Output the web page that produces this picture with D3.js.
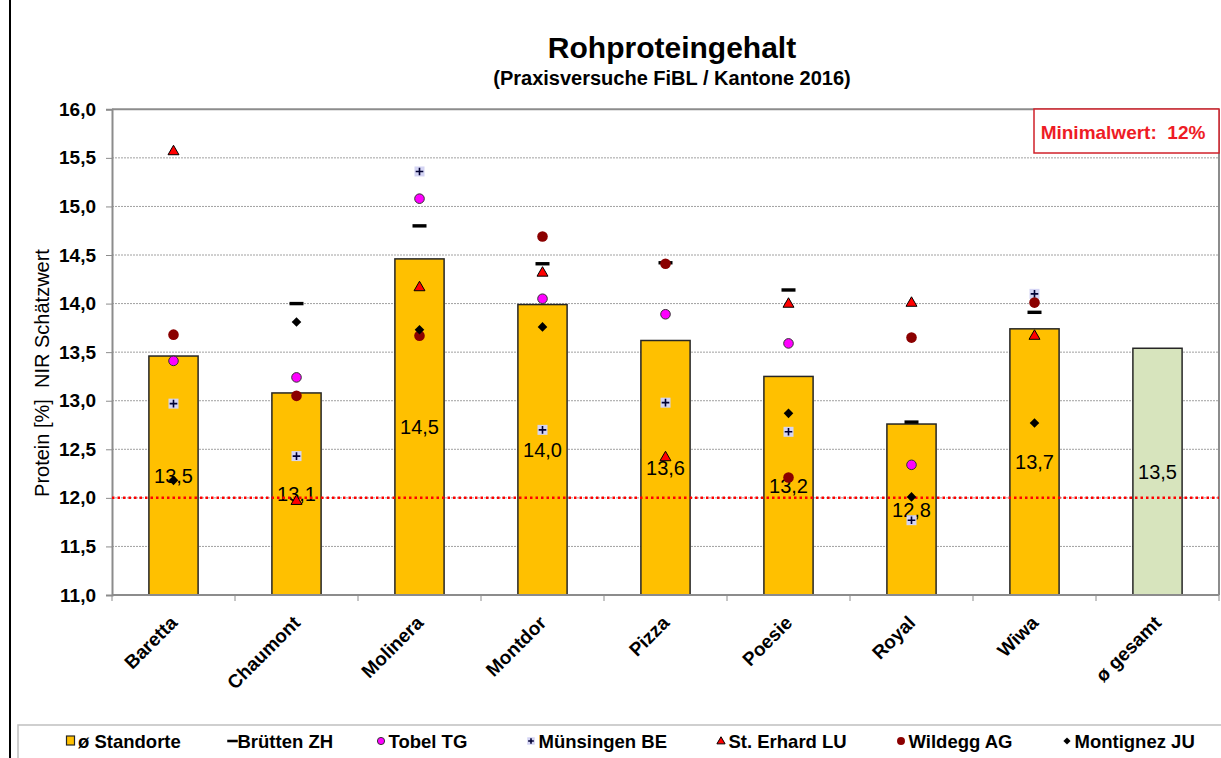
<!DOCTYPE html>
<html>
<head>
<meta charset="utf-8">
<script src="https://cdn.jsdelivr.net/npm/d3@7"></script>
<style>
  body { margin: 0; background: #fff; font-family: "Liberation Sans", Arial, sans-serif; }
</style>
</head>
<body>
<div id="chart"></div>
<script>
const categories = ['Baretta', 'Chaumont', 'Molinera', 'Montdor', 'Pizza', 'Poesie', 'Royal', 'Wiwa', 'ø gesamt'];
const means = [13.46, 13.08, 14.46, 13.99, 13.62, 13.25, 12.76, 13.74, 13.54];
const meanLabels = ['13,5', '13,1', '14,5', '14,0', '13,6', '13,2', '12,8', '13,7', '13,5'];
const bruetten = [null, 14.00, 14.80, 14.41, 14.42, 14.14, 12.78, 13.91, null];
const tobel = [13.41, 13.24, 15.08, 14.05, 13.89, 13.59, 12.34, null, null];
const muensingen = [12.97, 12.43, 15.36, 12.70, 12.98, 12.68, 11.77, 14.10, null];
const erhard = [15.57, 11.97, 14.17, 14.32, 12.42, 14.00, 14.01, 13.67, null];
const wildegg = [13.68, 13.05, 13.67, 14.69, 14.41, 12.21, 13.65, 14.01, null];
const montignez = [12.18, 13.81, 13.73, 13.76, null, 12.87, 12.01, 12.77, null];
const yTicks = [11, 11.5, 12, 12.5, 13, 13.5, 14, 14.5, 15, 15.5, 16];
const minValue = 12;

const width = 1221, height = 758;
const plotLeft = 112, plotRight = 1219, plotTop = 109.3, plotBottom = 595;

const svg = d3.select('#chart').append('svg')
  .attr('width', width)
  .attr('height', height);

const x = d3.scaleBand().domain(categories).range([plotLeft, plotRight]).paddingInner(0.6).paddingOuter(0.3);
const xBand = d3.scaleBand().domain(categories).range([plotLeft, plotRight]);
const y = d3.scaleLinear().domain([11, 16]).range([plotBottom, plotTop]);
const fmt = v => d3.format('.1f')(v).replace('.', ',');

// page frame
svg.append('line').attr('x1', 10).attr('x2', 10).attr('y1', 0).attr('y2', height)
  .attr('stroke', '#000').attr('stroke-width', 2);

// titles
svg.append('text').text('Rohproteingehalt')
  .attr('x', 672).attr('y', 58).attr('text-anchor', 'middle')
  .attr('font-size', 30).attr('font-weight', 'bold');
svg.append('text').text('(Praxisversuche FiBL / Kantone 2016)')
  .attr('x', 672).attr('y', 85).attr('text-anchor', 'middle')
  .attr('font-size', 20).attr('font-weight', 'bold');

// gridlines
svg.append('g').selectAll('line').data(yTicks.slice(1))
  .enter().append('line')
  .attr('x1', plotLeft).attr('x2', plotRight)
  .attr('y1', d => y(d)).attr('y2', d => y(d))
  .attr('stroke', d => d === 16 ? '#8c8c8c' : '#a0a0a0')
  .attr('stroke-width', d => d === 16 ? 2 : 1)
  .attr('stroke-dasharray', d => d === 16 ? null : '2,1');

// right border
svg.append('line').attr('x1', plotRight).attr('x2', plotRight).attr('y1', plotTop).attr('y2', plotBottom)
  .attr('stroke', '#8c8c8c').attr('stroke-width', 2);

// y axis
const yAxis = d3.axisLeft(y).tickValues(yTicks).tickFormat(fmt).tickSize(6).tickPadding(10);
const gy = svg.append('g').attr('transform', 'translate(' + plotLeft + ',0)').call(yAxis);
gy.select('.domain').attr('stroke', '#8c8c8c').attr('stroke-width', 2);
gy.selectAll('.tick line').attr('stroke', '#8c8c8c');
gy.selectAll('text').attr('font-size', 19).attr('font-weight', 'bold').attr('fill', '#000')
  .attr('font-family', '"Liberation Sans", Arial, sans-serif');

svg.append('text').text('Protein [%]  NIR Schätzwert')
  .attr('transform', 'translate(49,373) rotate(-90)')
  .attr('text-anchor', 'middle').attr('font-size', 20).attr('xml:space', 'preserve');

// bars
svg.append('g').selectAll('rect').data(categories)
  .enter().append('rect')
  .attr('x', d => x(d))
  .attr('width', x.bandwidth())
  .attr('y', (d, i) => y(means[i]))
  .attr('height', (d, i) => y(11) - y(means[i]))
  .attr('fill', (d, i) => i === categories.length - 1 ? '#d7e4bd' : '#ffc000')
  .attr('stroke', '#262626').attr('stroke-width', 1.5);

// x axis
const gx = svg.append('g').attr('transform', 'translate(0,' + plotBottom + ')');
gx.append('line').attr('x1', plotLeft).attr('x2', plotRight).attr('stroke', '#8c8c8c').attr('stroke-width', 2);
gx.selectAll('.tk').data(categories.concat(['end']))
  .enter().append('line')
  .attr('x1', (d, i) => plotLeft + i * xBand.bandwidth())
  .attr('x2', (d, i) => plotLeft + i * xBand.bandwidth())
  .attr('y1', 0).attr('y2', 6)
  .attr('stroke', '#8c8c8c');
gx.selectAll('text').data(categories)
  .enter().append('text')
  .text(d => d)
  .attr('transform', d => 'translate(' + (xBand(d) + xBand.bandwidth() / 2 + 5) + ',29) rotate(-45)')
  .attr('text-anchor', 'end')
  .attr('font-size', 19).attr('font-weight', 'bold');

// mean labels
svg.append('g').selectAll('text').data(categories)
  .enter().append('text')
  .text((d, i) => meanLabels[i])
  .attr('x', d => x(d) + x.bandwidth() / 2)
  .attr('y', (d, i) => (y(means[i]) + y(11)) / 2 + 7)
  .attr('text-anchor', 'middle')
  .attr('font-size', 20);

// minimum line
svg.append('line')
  .attr('x1', plotLeft).attr('x2', plotRight)
  .attr('y1', y(minValue)).attr('y2', y(minValue))
  .attr('stroke', '#ff0000').attr('stroke-width', 2.5).attr('stroke-dasharray', '2.5,3');

// markers
const cx = i => xBand(categories[i]) + xBand.bandwidth() / 2;
const series = [
  { name: 'Brütten ZH', data: bruetten, type: 'dash' },
  { name: 'Tobel TG', data: tobel, type: 'magenta' },
  { name: 'Münsingen BE', data: muensingen, type: 'plus' },
  { name: 'St. Erhard LU', data: erhard, type: 'triangle' },
  { name: 'Wildegg AG', data: wildegg, type: 'dot' },
  { name: 'Montignez JU', data: montignez, type: 'diamond' }
];

function drawMarker(g, type, px, py, s) {
  s = s || 1;
  if (type === 'dash') {
    g.append('rect').attr('x', px - 7 * s).attr('y', py - 1.7 * s).attr('width', 14 * s).attr('height', 3.4 * s).attr('fill', '#000');
  } else if (type === 'magenta') {
    g.append('circle').attr('cx', px).attr('cy', py).attr('r', 4.8 * s).attr('fill', '#ff00ff').attr('stroke', '#333').attr('stroke-width', 1);
  } else if (type === 'plus') {
    g.append('rect').attr('x', px - 5 * s).attr('y', py - 5 * s).attr('width', 10 * s).attr('height', 10 * s).attr('fill', '#d4d4f4');
    g.append('path').attr('d', 'M' + (px - 3.8 * s) + ',' + py + 'H' + (px + 3.8 * s) + 'M' + px + ',' + (py - 3.8 * s) + 'V' + (py + 3.8 * s))
      .attr('stroke', '#000033').attr('stroke-width', 1.6);
  } else if (type === 'triangle') {
    g.append('path').attr('d', d3.symbol().type(d3.symbolTriangle).size(52 * s * s)())
      .attr('transform', 'translate(' + px + ',' + (py + 0.5) + ')')
      .attr('fill', '#ff0000').attr('stroke', '#000').attr('stroke-width', 1);
  } else if (type === 'dot') {
    g.append('circle').attr('cx', px).attr('cy', py).attr('r', 5.3 * s).attr('fill', '#8b0000');
  } else if (type === 'diamond') {
    g.append('path').attr('d', d3.symbol().type(d3.symbolSquare).size(46 * s * s)())
      .attr('transform', 'translate(' + px + ',' + py + ') rotate(45)')
      .attr('fill', '#000');
  }
}

series.forEach(sr => {
  const g = svg.append('g');
  sr.data.forEach((v, i) => {
    if (v !== null) drawMarker(g, sr.type, cx(i), y(v));
  });
});

// Minimalwert box
svg.append('rect').attr('x', 1034).attr('y', 109).attr('width', 185).attr('height', 44)
  .attr('fill', '#fff').attr('stroke', '#d0202a').attr('stroke-width', 1.5);
svg.append('text').text('Minimalwert:  12%')
  .attr('x', 1123).attr('y', 139).attr('text-anchor', 'middle')
  .attr('font-size', 19).attr('font-weight', 'bold').attr('fill', '#ee1c25')
  .attr('xml:space', 'preserve');

// legend
const lg = svg.append('g');
lg.append('path').attr('d', 'M18,' + height + 'V725H' + width)
  .attr('fill', 'none').attr('stroke', '#c0c0c0').attr('stroke-width', 1.5);
const legendItems = [
  { name: 'ø Standorte', type: 'bar', x: 70.5 },
  { name: 'Brütten ZH', type: 'dash', x: 232.5 },
  { name: 'Tobel TG', type: 'magenta', x: 381 },
  { name: 'Münsingen BE', type: 'plus', x: 531 },
  { name: 'St. Erhard LU', type: 'triangle', x: 721 },
  { name: 'Wildegg AG', type: 'dot', x: 901 },
  { name: 'Montignez JU', type: 'diamond', x: 1067 }
];
const ly = 741;
legendItems.forEach(it => {
  if (it.type === 'bar') {
    lg.append('rect').attr('x', it.x - 4).attr('y', ly - 5).attr('width', 8).attr('height', 9)
      .attr('fill', '#ffc000').attr('stroke', '#262626').attr('stroke-width', 1.2);
  } else {
    drawMarker(lg, it.type, it.x, ly, 0.75);
  }
  lg.append('text').text(it.name)
    .attr('x', it.x + (it.type === 'dash' ? 5 : 7.5)).attr('y', ly + 7)
    .attr('font-size', 18.5).attr('font-weight', 'bold');
});
</script>
</body>
</html>
